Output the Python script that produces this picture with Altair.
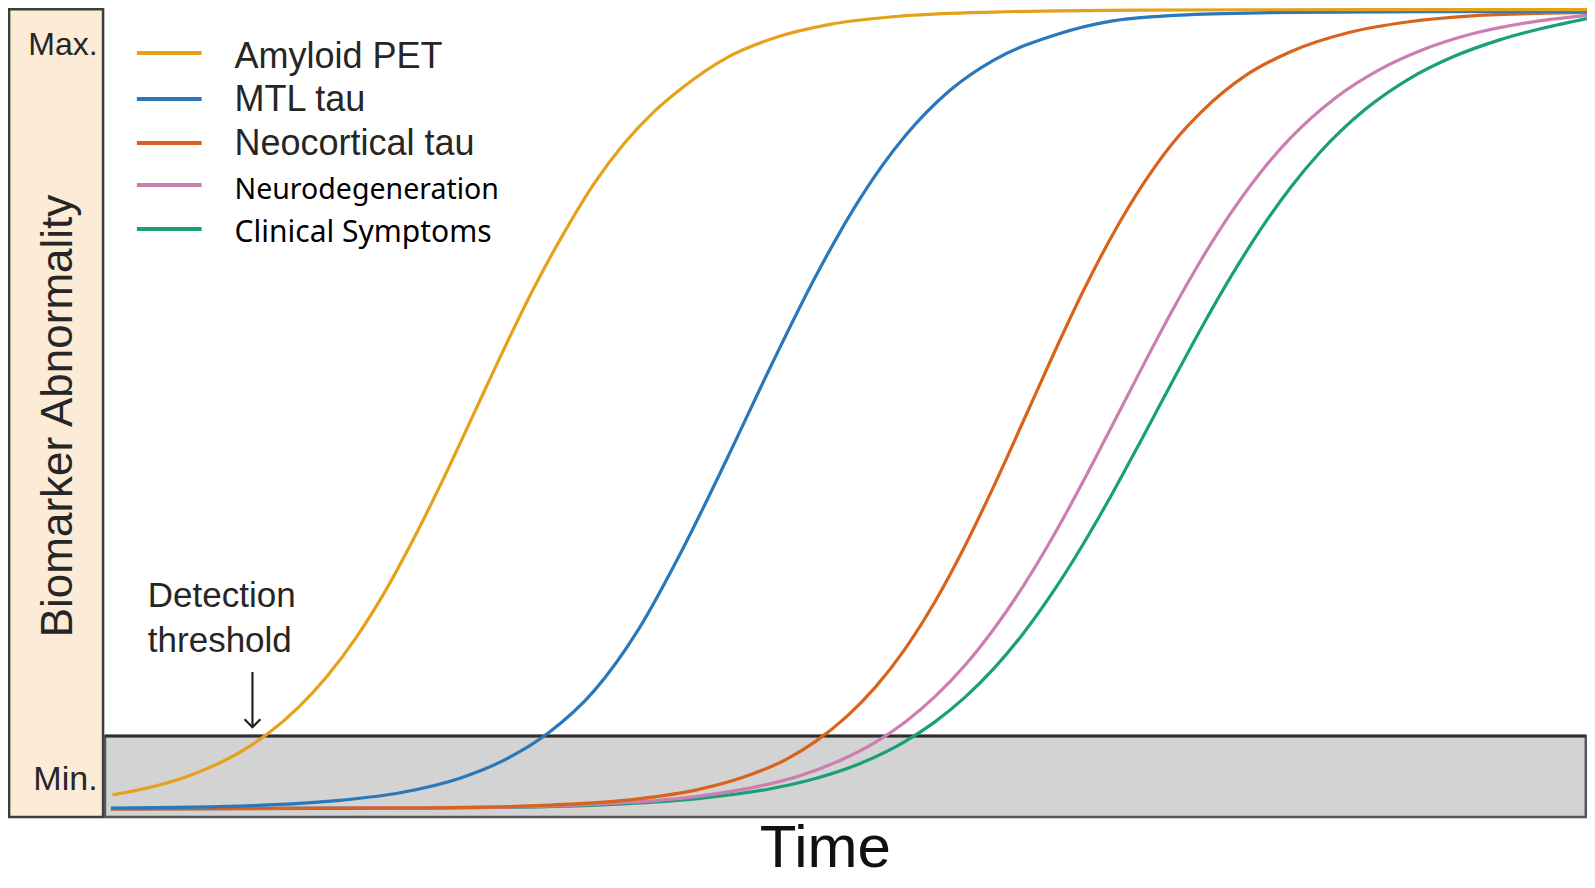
import altair as alt
import pandas as pd

# ---------------- data ----------------
series_names = ["Amyloid PET", "MTL tau", "Neocortical tau", "Neurodegeneration", "Clinical Symptoms"]
series_colors = ["#E6A11A", "#2A77B9", "#D9621C", "#CC7EB0", "#18A078"]

amyloid_t = [0.5, 3, 6, 9, 11, 13, 15, 17, 19, 21, 23, 25, 27, 29, 31, 33, 35, 37, 39, 42, 45, 49, 54, 60, 70, 85, 100]
amyloid_v = [2.73, 3.64, 5.32, 7.9, 10.32, 13.46, 17.43, 22.33, 28.2, 35.0, 42.45, 50.3, 58.15, 65.6, 72.3,
             78.3, 83.2, 87.1, 90.2, 93.9, 96.2, 98.0, 99.05, 99.5, 99.73, 99.8, 99.8]

mtl_t = [0.4, 10, 16, 20, 24, 27, 30, 33, 36, 39, 42, 45, 48, 51, 54, 57, 60, 64, 68, 73, 80, 90, 100]
mtl_v = [1.09, 1.41, 2.08, 3.03, 4.83, 7.09, 10.5, 15.59, 23.2, 33.2, 44.4, 56.0, 67.0, 76.6, 84.2,
         89.8, 93.6, 96.6, 98.4, 99.15, 99.45, 99.55, 99.58]

neo_t = [0.4, 20, 30, 36, 40, 43, 46, 48, 50, 52, 54, 56, 58, 60, 62, 64, 66, 68, 70, 72, 74, 77, 80, 84,
         88, 92, 96, 100]
neo_v = [1.0, 1.09, 1.46, 2.23, 3.38, 4.87, 7.15, 9.41, 12.34, 16.09, 20.82, 26.6, 33.41, 41.0, 49.07, 57.2,
         64.98, 72.0, 78.1, 83.2, 87.2, 91.7, 94.6, 97.0, 98.3, 99.0, 99.3, 99.45]

neuro_t = [0.4, 25, 35, 40, 44, 47, 50, 52, 54, 56, 58, 60, 62, 64, 66, 68, 70, 72, 74, 76, 78, 80, 83, 86,
           89, 92, 96, 100]
neuro_v = [1.0, 1.18, 1.76, 2.56, 3.75, 5.17, 7.33, 9.27, 11.75, 14.87, 18.69, 23.3, 28.65, 34.76, 41.46,
           48.52, 55.64, 62.55, 68.98, 74.74, 79.74, 83.94, 88.85, 92.38, 94.9, 96.7, 98.2, 99.1]

clin_t = [0.4, 25, 35, 40, 45, 48, 51, 54, 56, 58, 60, 62, 64, 66, 68, 70, 72, 74, 76, 78, 80, 82, 85, 88,
          91, 94, 97, 100]
clin_v = [1.0, 1.16, 1.63, 2.27, 3.52, 4.79, 6.65, 9.35, 11.76, 14.75, 18.4, 22.78, 27.91, 33.72, 40.09,
          46.86, 53.74, 60.51, 66.88, 72.69, 77.82, 82.2, 87.42, 91.25, 94.0, 96.0, 97.5, 98.7]

threshold_level = 10
high_label = "Max."
low_label = "Min."
y_title = "Biomarker Abnormality"
x_title = "Time"
threshold_text = ["Detection", "threshold"]

# ---------------- layout ----------------
W, H = 1579, 872
xs = alt.Scale(domain=[-6.545, 100], nice=False, zero=False)
ys = alt.Scale(domain=[-7.787, 100], nice=False, zero=False)
cs = alt.Scale(domain=series_names, range=series_colors)
ARIAL = "Liberation Sans"
TXT = "#262626"


def X(f="t"):
    return alt.X(f"{f}:Q", scale=xs, axis=None)


def Y(f="v"):
    return alt.Y(f"{f}:Q", scale=ys, axis=None)


# background boxes
box = pd.DataFrame({"t": [-6.47], "t2": [-0.13], "v": [0], "v2": [99.85]})
beige = alt.Chart(box).mark_rect(fill="#FCEBD6", stroke="#3d3d3d", strokeWidth=2.5).encode(
    x=X(), x2="t2:Q", y=Y(), y2="v2:Q")

band = pd.DataFrame({"t": [0], "t2": [99.92], "v": [0], "v2": [threshold_level]})
gray = alt.Chart(band).mark_rect(fill="#D3D3D3", stroke="#555555", strokeWidth=2.5).encode(
    x=X(), x2="t2:Q", y=Y(), y2="v2:Q")
band_top = alt.Chart(band).mark_rule(color="#2e2e2e", strokeWidth=3).encode(
    x=X(), x2="t2:Q", y=Y("v2"))

# curves
curve_sets = [
    (series_names[0], amyloid_t, amyloid_v),
    (series_names[1], mtl_t, mtl_v),
    (series_names[2], neo_t, neo_v),
    (series_names[3], neuro_t, neuro_v),
    (series_names[4], clin_t, clin_v),
]
curve_layers = []
for name, tt, vv in reversed(curve_sets):
    df = pd.DataFrame({"series": name, "t": tt, "v": vv})
    curve_layers.append(
        alt.Chart(df).mark_line(strokeWidth=3.2, interpolate="monotone").encode(
            x=X(), y=Y(), color=alt.Color("series:N", scale=cs, legend=None), order="t:Q")
    )

# legend (hand drawn)
legend_v = [94.44, 88.75, 83.31, 78.12, 72.68]
label_v = [92.58, 87.27, 81.83, 76.39, 71.08]
leg = pd.DataFrame({"series": series_names, "t": 2.15, "t2": 6.52, "v": legend_v,
                    "lv": label_v, "lt": 8.74})
leg_lines = alt.Chart(leg).mark_rule(strokeWidth=4).encode(
    x=X(), x2="t2:Q", y=Y(), color=alt.Color("series:N", scale=cs, legend=None))
leg_text_a = alt.Chart(leg.iloc[:3]).mark_text(
    align="left", baseline="alphabetic", font=ARIAL, fontSize=36, color=TXT).encode(
    x=X("lt"), y=Y("lv"), text="series:N")
leg_text_b = alt.Chart(leg.iloc[3:4]).mark_text(
    align="left", baseline="alphabetic", font="Noto Sans", fontSize=28.5, color="#000000").encode(
    x=X("lt"), y=Y("lv"), text="series:N")
leg_text_c = alt.Chart(leg.iloc[4:]).mark_text(
    align="left", baseline="alphabetic", font="Noto Sans", fontSize=30, color="#000000").encode(
    x=X("lt"), y=Y("lv"), text="series:N")

# axis-like labels
max_txt = alt.Chart(pd.DataFrame({"t": [-0.5], "v": [94.2], "s": [high_label]})).mark_text(
    align="right", baseline="alphabetic", font=ARIAL, fontSize=32, color=TXT).encode(
    x=X(), y=Y(), text="s:N")
min_txt = alt.Chart(pd.DataFrame({"t": [-0.5], "v": [3.34], "s": [low_label]})).mark_text(
    align="right", baseline="alphabetic", font=ARIAL, fontSize=34, color=TXT).encode(
    x=X(), y=Y(), text="s:N")
ytitle = alt.Chart(pd.DataFrame({"t": [-2.22], "v": [49.57], "s": [y_title]})).mark_text(
    align="center", baseline="alphabetic", angle=270, font=ARIAL, fontSize=44, color=TXT).encode(
    x=X(), y=Y(), text="s:N")
xtitle = alt.Chart(pd.DataFrame({"t": [48.6], "v": [-6.18], "s": [x_title]})).mark_text(
    align="center", baseline="alphabetic", font=ARIAL, fontSize=60, color="#111111").encode(
    x=X(), y=Y(), text="s:N")

# detection threshold annotation
det = alt.Chart(pd.DataFrame({"t": [2.89, 2.89], "v": [25.96, 20.40], "s": threshold_text})).mark_text(
    align="left", baseline="alphabetic", font=ARIAL, fontSize=35, color=TXT).encode(
    x=X(), y=Y(), text="s:N")
arrow_df = pd.DataFrame({"t": [9.95], "v": [17.92], "v2": [11.1]})
arrow_line = alt.Chart(arrow_df).mark_rule(color="#222222", strokeWidth=2.2).encode(
    x=X(), y=Y(), y2="v2:Q")
arrow_head = alt.Chart(arrow_df).mark_point(
    shape="M-1,-1L0,0L1,-1", filled=False, color="#222222", strokeWidth=2.2, size=250, opacity=1).encode(
    x=X(), y=Y("v2"))

chart = alt.layer(
    beige, gray, band_top, *curve_layers, leg_lines, leg_text_a, leg_text_b, leg_text_c,
    max_txt, min_txt, ytitle, xtitle, det, arrow_line, arrow_head
).properties(
    width=W, height=H, padding=0, autosize=alt.AutoSizeParams(type="none")
).configure_view(stroke=None)

chart.save("out.html", embed_options={"renderer": "svg", "actions": False})
